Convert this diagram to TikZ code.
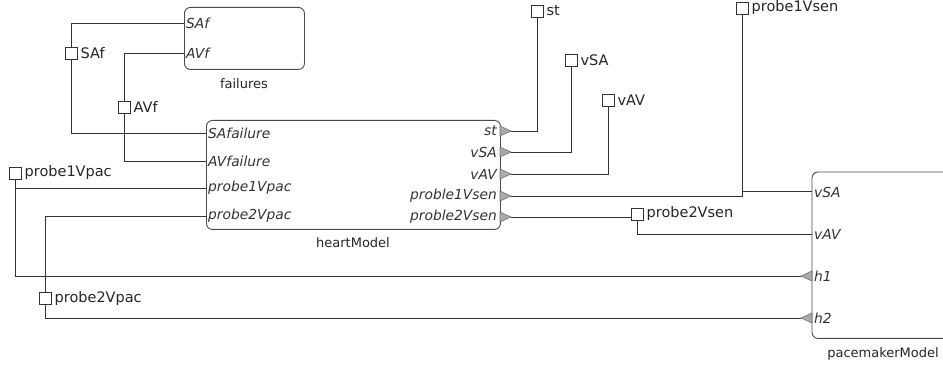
\documentclass[tikz,border=0pt]{standalone}
\usepackage{fontspec}
\setmainfont{DejaVu Sans}
\usetikzlibrary{calc}
\definecolor{wire}{HTML}{333333}
\definecolor{edge}{HTML}{4A4A4A}
\definecolor{trifill}{HTML}{AAAAAA}
\tikzset{
  blockbox/.style={draw=edge, line width=0.9pt, rounded corners=6pt, fill=white, inner sep=0pt, anchor=north west},
  blockedge/.style={draw=edge, line width=0.9pt, rounded corners=6pt},
  wireline/.style={draw=wire, line width=0.9pt},
  sq/.style={draw=wire, line width=0.9pt, fill=white, minimum size=12pt, inner sep=0pt},
  sqlabel/.style={anchor=west, inner sep=0pt, font=\fontsize{14.5}{16}\selectfont, text=black!85},
  portlabel/.style={inner sep=0pt, font=\fontsize{13.8}{15}\itshape\selectfont, text=black!80},
  blocklabel/.style={inner sep=0pt, font=\fontsize{13}{15}\selectfont, text=black!85},
  tri/.style={fill=trifill, draw=black!55, line width=0.6pt}
}
\begin{document}
\begin{tikzpicture}[x=1pt,y=-1pt]
\useasboundingbox (0,0) rectangle (943,366);
\fill[white] (0,0) rectangle (943,366);

% blocks
\node[blockbox, minimum width=120pt, minimum height=62pt] (failures) at (184,7) {};
\node[blocklabel] (failuresLbl) at (244,84) {failures};
\node[blockbox, minimum width=294pt, minimum height=109pt] (heart) at (206,120) {};
\node[blocklabel] (heartLbl) at (353,243) {heartModel};
\node[inner sep=0pt, minimum width=131pt, minimum height=166pt, anchor=north west] (pace) at (812,172) {};
\draw[blockedge] (pace.north east) -- (pace.north west) -- (pace.south west) -- (pace.south east);
\node[blocklabel] (paceLbl) at (883,354) {pacemakerModel};

% ports of failures
\coordinate (f-SAf) at (184,23);
\coordinate (f-AVf) at (184,53);
\node[portlabel, anchor=west] (fl-SAf) at (186,23) {SAf};
\node[portlabel, anchor=west] (fl-AVf) at (186,53) {AVf};

% ports of heartModel (left)
\coordinate (h-SAfailure) at (206,133);
\coordinate (h-AVfailure) at (206,161);
\coordinate (h-p1pac) at (206,188);
\coordinate (h-p2pac) at (206,216);
\node[portlabel, anchor=west] (hl-SAfailure) at (208,133) {SAfailure};
\node[portlabel, anchor=west] (hl-AVfailure) at (208,161) {AVfailure};
\node[portlabel, anchor=west] (hl-p1pac) at (208,188) {probe1Vpac};
\node[portlabel, anchor=west] (hl-p2pac) at (208,216) {probe2Vpac};

% ports of heartModel (right)
\coordinate (h-st) at (500,131);
\coordinate (h-vSA) at (500,152);
\coordinate (h-vAV) at (500,174);
\coordinate (h-p1sen) at (500,196);
\coordinate (h-p2sen) at (500,217);
\node[portlabel, anchor=east] (hl-st) at (497,131) {st};
\node[portlabel, anchor=east] (hl-vSA) at (497,152) {vSA};
\node[portlabel, anchor=east] (hl-vAV) at (497,174) {vAV};
\node[portlabel, anchor=east] (hl-p1sen) at (497,196) {proble1Vsen};
\node[portlabel, anchor=east] (hl-p2sen) at (497,217) {proble2Vsen};
\foreach \p in {st,vSA,vAV,p1sen,p2sen}{
  \path[tri] (h-\p) ++(0,-5) -- ++(11,5) -- ++(-11,5) -- cycle;
  \coordinate (t-\p) at ($(h-\p)+(11,0)$);
}

% ports of pacemakerModel
\coordinate (pm-vSA) at (812,191);
\coordinate (pm-vAV) at (812,234);
\coordinate (pm-h1) at (812,276);
\coordinate (pm-h2) at (812,318);
\node[portlabel, anchor=west] (pl-vSA) at (814,192) {vSA};
\node[portlabel, anchor=west] (pl-vAV) at (814,234) {vAV};
\node[portlabel, anchor=west] (pl-h1) at (814,276) {h1};
\node[portlabel, anchor=west] (pl-h2) at (814,318) {h2};
\foreach \p in {h1,h2}{
  \path[tri] (pm-\p) ++(0,-5) -- ++(-11,5) -- ++(11,5) -- cycle;
  \coordinate (t-\p) at ($(pm-\p)+(-11,0)$);
}

% markers
\node[sq] (m-SAf) at (71,53) {};
\node[sqlabel] (ml-SAf) at ([xshift=3pt]m-SAf.east) {SAf};
\node[sq] (m-AVf) at (124,107) {};
\node[sqlabel] (ml-AVf) at ([xshift=3pt]m-AVf.east) {AVf};
\node[sq] (m-st) at (537,11) {};
\node[sqlabel] (ml-st) at ([xshift=3pt]m-st.east) {st};
\node[sq] (m-vSA) at (571,60) {};
\node[sqlabel] (ml-vSA) at ([xshift=3pt]m-vSA.east) {vSA};
\node[sq] (m-vAV) at (608,100) {};
\node[sqlabel] (ml-vAV) at ([xshift=3pt]m-vAV.east) {vAV};
\node[sq] (m-p1sen) at (742,8) {};
\node[sqlabel] (ml-p1sen) at ([xshift=3pt]m-p1sen.east) {probe1Vsen};
\node[sq] (m-p2sen) at (637,214) {};
\node[sqlabel] (ml-p2sen) at ([xshift=3pt]m-p2sen.east) {probe2Vsen};
\node[sq] (m-p1pac) at (15,173) {};
\node[sqlabel] (ml-p1pac) at ([xshift=3pt]m-p1pac.east) {probe1Vpac};
\node[sq] (m-p2pac) at (45,298) {};
\node[sqlabel] (ml-p2pac) at ([xshift=3pt]m-p2pac.east) {probe2Vpac};

\coordinate (j1) at (742,196);
\coordinate (j1b) at (742,191);

% wires
\draw[wireline] (f-SAf) -| (m-SAf);
\draw[wireline] (m-SAf) |- (h-SAfailure);
\draw[wireline] (f-AVf) -| (m-AVf);
\draw[wireline] (m-AVf) |- (h-AVfailure);
\draw[wireline] (t-st) -| (m-st);
\draw[wireline] (t-vSA) -| (m-vSA);
\draw[wireline] (t-vAV) -| (m-vAV);
\draw[wireline] (t-p1sen) -- (j1) -- (m-p1sen);
\draw[wireline] (j1b) -- (pm-vSA);
\draw[wireline] (t-p2sen) -- (t-p2sen -| m-p2sen.west);
\draw[wireline] (m-p2sen) |- (pm-vAV);
\draw[wireline] (m-p1pac) |- (h-p1pac);
\draw[wireline] (m-p1pac) |- (t-h1);
\draw[wireline] (h-p2pac) -| (m-p2pac);
\draw[wireline] (m-p2pac) |- (t-h2);
\end{tikzpicture}
\end{document}
